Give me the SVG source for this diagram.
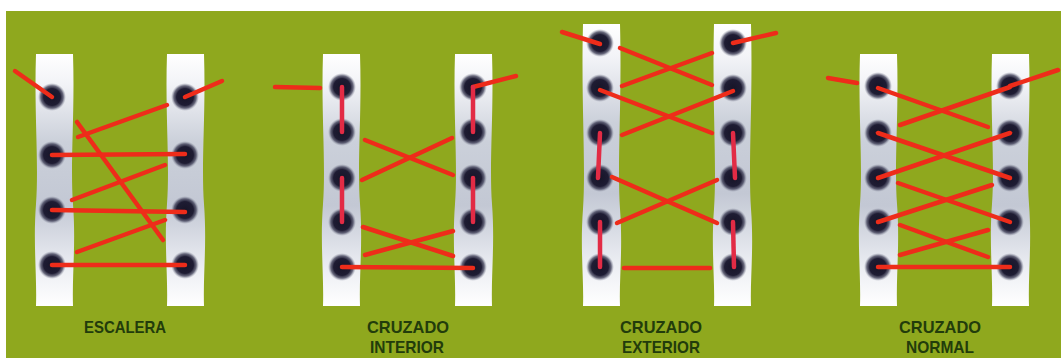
<svg xmlns="http://www.w3.org/2000/svg" width="1061" height="358" viewBox="0 0 1061 358">
  <style>
    .strip { fill: url(#stripFill); }
    .eye { fill: url(#eyeFill); }
    .lace { stroke: #ee2c1a; stroke-width: 4.5; stroke-linecap: round; fill: none; }
    .loop { stroke: #e22b45; stroke-width: 4.5; stroke-linecap: round; fill: none; }
    .label { font-family: "Liberation Sans Narrow", "Liberation Sans", "DejaVu Sans Condensed", sans-serif; font-weight: bold; font-size: 17px; fill: #223c0b; text-anchor: middle; }
  </style>
  <defs>
    <linearGradient id="stripFill" x1="0" y1="0" x2="0" y2="1">
      <stop offset="0" stop-color="#ffffff"/>
      <stop offset="0.12" stop-color="#f2f3f7"/>
      <stop offset="0.35" stop-color="#cbd0da"/>
      <stop offset="0.6" stop-color="#c3c8d4"/>
      <stop offset="0.85" stop-color="#eceef3"/>
      <stop offset="1" stop-color="#ffffff"/>
    </linearGradient>
    <radialGradient id="eyeFill" cx="0.5" cy="0.5" r="0.5">
      <stop offset="0" stop-color="#171528"/>
      <stop offset="0.6" stop-color="#1e1c33"/>
      <stop offset="0.8" stop-color="#3c3c55" stop-opacity="0.75"/>
      <stop offset="1" stop-color="#8a8ea0" stop-opacity="0"/>
    </radialGradient>
    <!-- a single eyelet strip, 37 wide, with slightly wavy sides -->
    <path id="stripShort" class="strip" d="M0 0 H37 C39 60 34 110 37 150 C40 190 36 220 37 252 H0 C1 220 -3 190 0 150 C3 110 -2 60 0 0 Z"/>
    <path id="stripLong" class="strip" d="M0 0 H37 C39 80 34 140 37 185 C40 225 36 255 37 282 H0 C1 255 -3 225 0 185 C3 140 -2 80 0 0 Z"/>
  </defs>

  <!-- backdrop -->
  <rect x="0" y="0" width="1061" height="358" fill="#ffffff"/>
  <rect x="6" y="11" width="1055" height="347" fill="#8fa81e"/>

  <!-- ESCALERA -->
  <g id="escalera">
    <use href="#stripShort" x="36" y="54"/>
    <use href="#stripShort" x="167" y="54"/>
    <circle class="eye" cx="52" cy="97" r="14"/>
    <circle class="eye" cx="52" cy="155" r="14"/>
    <circle class="eye" cx="52" cy="210" r="14"/>
    <circle class="eye" cx="52" cy="265" r="14"/>
    <circle class="eye" cx="185" cy="97" r="14"/>
    <circle class="eye" cx="185" cy="155" r="14"/>
    <circle class="eye" cx="185" cy="210" r="14"/>
    <circle class="eye" cx="185" cy="265" r="14"/>
    <text class="label" x="125" y="333" textLength="82" lengthAdjust="spacingAndGlyphs">ESCALERA</text>
  </g>

  <!-- CRUZADO INTERIOR -->
  <g id="cruzado-interior">
    <use href="#stripShort" x="323" y="54"/>
    <use href="#stripShort" x="455" y="54"/>
    <circle class="eye" cx="342" cy="87" r="14"/>
    <circle class="eye" cx="342" cy="132" r="14"/>
    <circle class="eye" cx="342" cy="178" r="14"/>
    <circle class="eye" cx="342" cy="222" r="14"/>
    <circle class="eye" cx="342" cy="267" r="14"/>
    <circle class="eye" cx="473" cy="87" r="14"/>
    <circle class="eye" cx="473" cy="132" r="14"/>
    <circle class="eye" cx="473" cy="178" r="14"/>
    <circle class="eye" cx="473" cy="222" r="14"/>
    <circle class="eye" cx="473" cy="267" r="14"/>
    <text class="label" x="408" y="333" textLength="82" lengthAdjust="spacingAndGlyphs">CRUZADO</text>
    <text class="label" x="407" y="353" textLength="74" lengthAdjust="spacingAndGlyphs">INTERIOR</text>
  </g>

  <!-- CRUZADO EXTERIOR -->
  <g id="cruzado-exterior">
    <use href="#stripLong" x="583" y="24"/>
    <use href="#stripLong" x="714" y="24"/>
    <circle class="eye" cx="600" cy="43" r="14"/>
    <circle class="eye" cx="600" cy="88" r="14"/>
    <circle class="eye" cx="600" cy="133" r="14"/>
    <circle class="eye" cx="600" cy="178" r="14"/>
    <circle class="eye" cx="600" cy="222" r="14"/>
    <circle class="eye" cx="600" cy="267" r="14"/>
    <circle class="eye" cx="733" cy="43" r="14"/>
    <circle class="eye" cx="733" cy="88" r="14"/>
    <circle class="eye" cx="733" cy="133" r="14"/>
    <circle class="eye" cx="733" cy="178" r="14"/>
    <circle class="eye" cx="733" cy="222" r="14"/>
    <circle class="eye" cx="733" cy="267" r="14"/>
    <text class="label" x="661" y="333" textLength="82" lengthAdjust="spacingAndGlyphs">CRUZADO</text>
    <text class="label" x="661" y="353" textLength="78" lengthAdjust="spacingAndGlyphs">EXTERIOR</text>
  </g>

  <!-- CRUZADO NORMAL -->
  <g id="cruzado-normal">
    <use href="#stripShort" x="860" y="54"/>
    <use href="#stripShort" x="992" y="54"/>
    <circle class="eye" cx="878" cy="86" r="14"/>
    <circle class="eye" cx="878" cy="133" r="14"/>
    <circle class="eye" cx="878" cy="178" r="14"/>
    <circle class="eye" cx="878" cy="222" r="14"/>
    <circle class="eye" cx="878" cy="267" r="14"/>
    <circle class="eye" cx="1010" cy="86" r="14"/>
    <circle class="eye" cx="1010" cy="133" r="14"/>
    <circle class="eye" cx="1010" cy="178" r="14"/>
    <circle class="eye" cx="1010" cy="222" r="14"/>
    <circle class="eye" cx="1010" cy="267" r="14"/>
    <text class="label" x="940" y="333" textLength="82" lengthAdjust="spacingAndGlyphs">CRUZADO</text>
    <text class="label" x="940" y="353" textLength="68" lengthAdjust="spacingAndGlyphs">NORMAL</text>
  </g>

  <!-- laces -->
  <g id="laces">
    <!-- escalera -->
    <line class="lace" x1="15" y1="71" x2="52" y2="97"/>
    <line class="lace" x1="185" y1="97" x2="222" y2="81"/>
    <line class="lace" x1="78" y1="137" x2="167" y2="105"/>
    <line class="lace" x1="77" y1="122" x2="163" y2="240"/>
    <line class="lace" x1="52" y1="155" x2="185" y2="154"/>
    <line class="lace" x1="72" y1="200" x2="165" y2="165"/>
    <line class="lace" x1="52" y1="210" x2="185" y2="212"/>
    <line class="lace" x1="77" y1="252" x2="165" y2="220"/>
    <line class="lace" x1="52" y1="265" x2="185" y2="265"/>

    <!-- cruzado interior -->
    <line class="lace" x1="275" y1="87" x2="320" y2="88"/>
    <line class="lace" x1="473" y1="87" x2="516" y2="76"/>
    <line class="loop" x1="342" y1="87" x2="342" y2="132"/>
    <line class="loop" x1="342" y1="178" x2="342" y2="222"/>
    <line class="loop" x1="473" y1="87" x2="473" y2="132"/>
    <line class="loop" x1="473" y1="178" x2="473" y2="222"/>
    <line class="lace" x1="365" y1="140" x2="453" y2="175"/>
    <line class="lace" x1="362" y1="180" x2="452" y2="138"/>
    <line class="lace" x1="363" y1="227" x2="453" y2="256"/>
    <line class="lace" x1="365" y1="255" x2="453" y2="231"/>
    <line class="lace" x1="342" y1="267" x2="473" y2="268"/>

    <!-- cruzado exterior -->
    <line class="lace" x1="562" y1="32" x2="600" y2="44"/>
    <line class="lace" x1="733" y1="43" x2="776" y2="33"/>
    <line class="lace" x1="620" y1="48" x2="712" y2="85"/>
    <line class="lace" x1="622" y1="86" x2="712" y2="53"/>
    <line class="lace" x1="600" y1="90" x2="712" y2="133"/>
    <line class="lace" x1="622" y1="135" x2="733" y2="91"/>
    <line class="loop" x1="600" y1="133" x2="598" y2="178"/>
    <line class="loop" x1="600" y1="222" x2="600" y2="267"/>
    <line class="loop" x1="733" y1="133" x2="735" y2="178"/>
    <line class="loop" x1="733" y1="222" x2="734" y2="267"/>
    <line class="lace" x1="612" y1="177" x2="717" y2="223"/>
    <line class="lace" x1="617" y1="223" x2="717" y2="180"/>
    <line class="lace" x1="624" y1="268" x2="710" y2="268"/>

    <!-- cruzado normal -->
    <line class="lace" x1="828" y1="78" x2="857" y2="83"/>
    <line class="lace" x1="1010" y1="86" x2="1058" y2="70"/>
    <line class="lace" x1="878" y1="88" x2="988" y2="127"/>
    <line class="lace" x1="900" y1="125" x2="1010" y2="87"/>
    <line class="lace" x1="878" y1="133" x2="1010" y2="178"/>
    <line class="lace" x1="878" y1="178" x2="1010" y2="133"/>
    <line class="lace" x1="898" y1="183" x2="1010" y2="222"/>
    <line class="lace" x1="878" y1="222" x2="992" y2="185"/>
    <line class="lace" x1="900" y1="225" x2="988" y2="257"/>
    <line class="lace" x1="900" y1="255" x2="988" y2="230"/>
    <line class="lace" x1="878" y1="267" x2="1010" y2="267"/>
  </g>
</svg>
